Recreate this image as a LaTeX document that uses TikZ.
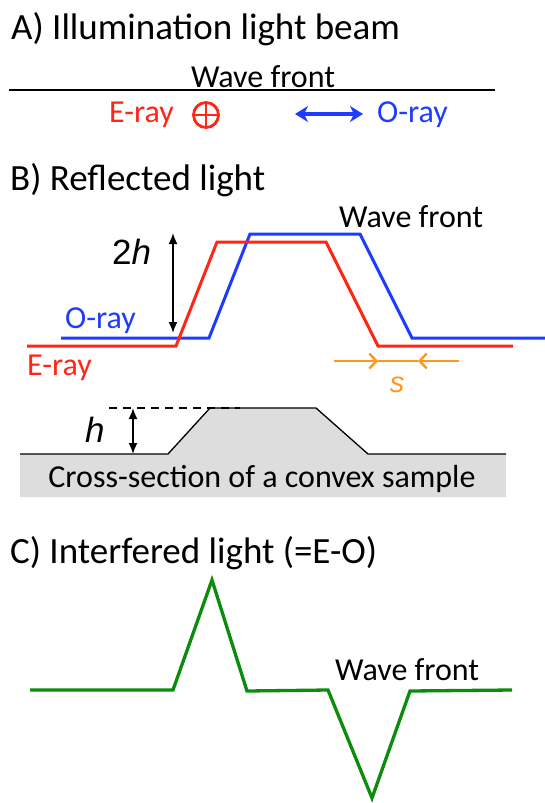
\documentclass[tikz,border=0pt]{standalone}
\usepackage{fontspec}
\setmainfont{Carlito}
\newfontfamily\arialfont{Liberation Sans}
\usetikzlibrary{arrows.meta}
\definecolor{ered}{RGB}{255,38,22}
\definecolor{oblue}{RGB}{30,60,255}
\definecolor{sorange}{RGB}{255,150,30}
\definecolor{igreen}{RGB}{12,140,12}
\definecolor{sgray}{RGB}{221,221,221}
\tikzset{
  title/.style={anchor=base west,inner sep=0pt,font=\fontsize{37}{44}\selectfont},
  lbl/.style={inner sep=0pt,font=\fontsize{32}{38}\selectfont},
  wave/.style={line width=3pt,line join=miter},
  dimarrow/.style={line width=1.7pt,{Latex[length=11pt,width=9pt]}-{Latex[length=11pt,width=9pt]}},
  mathlbl/.style={inner sep=0pt,font=\fontsize{35}{40}\selectfont\arialfont},
}
\begin{document}
\begin{tikzpicture}[x=1pt,y=-1pt]
\fill[white] (0,0) rectangle (545,803);
\useasboundingbox (0,0) rectangle (545,803);

% ---------- A ----------
\node[title] (tA) at (11,39) {A) Illumination light beam};
\coordinate (wfL) at (9,90);
\coordinate (wfR) at (495,90);
\draw[line width=1.2pt] (wfL) -- (wfR);
\node[lbl,anchor=base] (wfA) at (263,87) {Wave front};
\node[lbl,anchor=base west,text=ered] (eA) at (109,122) {E-ray};
\node[draw=ered,line width=2.8pt,circle,minimum size=25pt,inner sep=0pt] (cp) at (206,115) {};
\draw[ered,line width=2.4pt] (cp.north) -- (cp.south) (cp.west) -- (cp.east);
\coordinate (baL) at (295,114);
\coordinate (baR) at (363,114);
\draw[oblue,line width=3.2pt,{Stealth[length=13pt,width=16pt,inset=4pt]}-{Stealth[length=13pt,width=16pt,inset=4pt]}] (baL) -- (baR);
\node[lbl,anchor=base west,text=oblue] (oA) at (377,122) {O-ray};

% ---------- B ----------
\node[title] (tB) at (10,190) {B) Reflected light};
\node[lbl,anchor=base west] (wfB) at (339,227) {Wave front};
\draw[wave,oblue] (61,338) -- (209,338) -- (250,234) -- (360,234) -- (412,338) -- (545,338);
\draw[wave,ered] (27,346) -- (176,346) -- (217,242) -- (326,242) -- (378,346) -- (513,346);
\node[lbl,anchor=base west,text=oblue] (oB) at (65,328) {O-ray};
\node[lbl,anchor=base west,text=ered] (eB) at (27,375) {E-ray};
\coordinate (h2t) at (173,233);
\coordinate (h2b) at (173,333);
\draw[dimarrow] (h2t) -- (h2b);
\node[mathlbl,anchor=base west] (l2h) at (112,264) {2\textit{h}};
% shift s
\coordinate (sL) at (334,361);
\coordinate (sA) at (378,361);
\coordinate (sB) at (418,361);
\coordinate (sR) at (459,361);
\draw[sorange,line width=2.4pt] (sA) -- (sB);
\draw[sorange,line width=2.4pt,-{Straight Barb[length=7pt,width=15pt]}] (sL) -- (sA);
\draw[sorange,line width=2.4pt,-{Straight Barb[length=7pt,width=15pt]}] (sR) -- (sB);
\node[inner sep=0pt,anchor=base,text=sorange,font=\fontsize{29}{32}\selectfont\arialfont\itshape] (ls) at (397,392) {s};

% sample
\fill[sgray] (20,454) -- (168,454) -- (210,408) -- (316,408) -- (368,454) -- (506,454) -- (506,497) -- (20,497) -- cycle;
\draw[line width=1.3pt] (20,454) -- (168,454) -- (210,408) -- (316,408) -- (368,454) -- (506,454);
\draw[line width=2pt,dash pattern=on 8pt off 6pt] (109,408) -- (240,408);
\coordinate (ht) at (133,408);
\coordinate (hb) at (133,454);
\draw[dimarrow] (ht) -- (hb);
\node[mathlbl,anchor=base west,font=\fontsize{35}{40}\selectfont\arialfont\itshape] (lh) at (85,442) {h};
\node[lbl,anchor=base] (cs) at (262,487) {Cross-section of a convex sample};

% ---------- C ----------
\node[title] (tC) at (10,563) {C) Interfered light (=E-O)};
\draw[wave,igreen,line width=3.3pt] (30,690) -- (173,690) -- (212,580) -- (247,691) -- (328,690) -- (372,798) -- (410,691) -- (512,690);
\node[lbl,anchor=base west] (wfC) at (335,680) {Wave front};
\end{tikzpicture}
\end{document}
